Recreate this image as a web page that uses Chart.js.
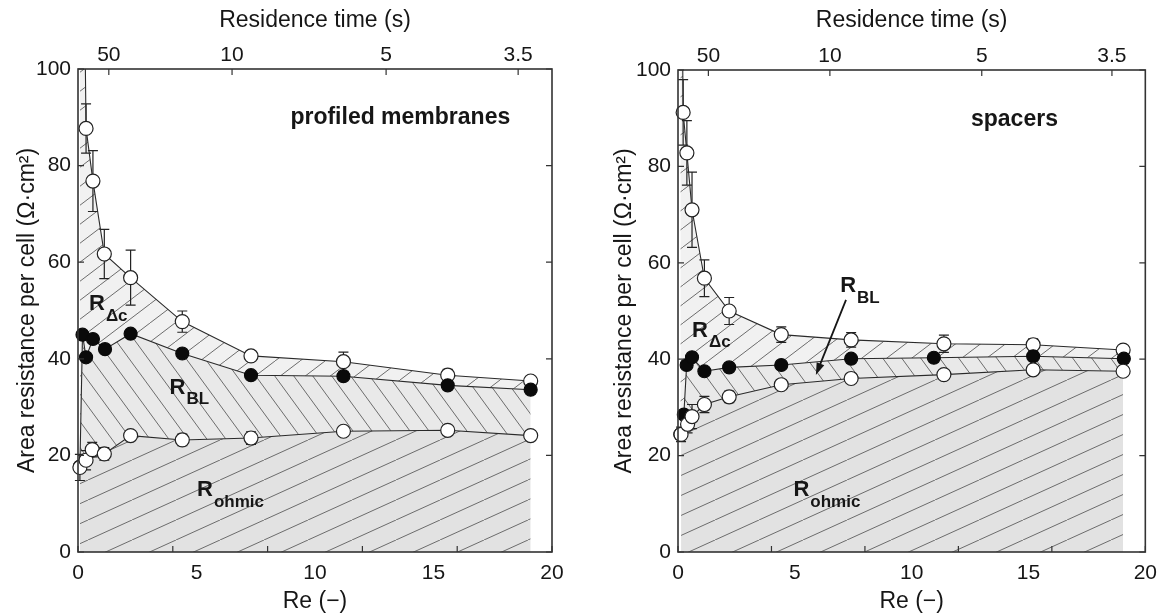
<!DOCTYPE html>
<html lang="en">
<head>
<meta charset="UTF-8">
<title>Area resistance per cell vs Re</title>
<script src="https://cdn.jsdelivr.net/npm/chart.js"></script>
<style>
  body { margin: 0; background: #fff; }
  .wrap { position: absolute; top: 0; width: 583px; height: 615px; }
  #boxL { left: 0; }
  #boxR { left: 583px; }
</style>
</head>
<body>
<div class="wrap" id="boxL"><canvas id="chartL"></canvas></div>
<div class="wrap" id="boxR"><canvas id="chartR"></canvas></div>
<script>
  // Re * residence time (s), used to place the top axis
  const reTimesTau = 65;
  const residenceTicks = [50, 10, 5, 3.5];
  const reTickLabels = [0, 5, 10, 15, 20];
  const reTickMarks = [0, 4, 8, 12, 16, 20];
  const resistanceTicks = [0, 20, 40, 60, 80, 100];

  // profiled membranes
  const pmReOhmic = [0.08, 0.34, 0.6, 1.11, 2.22, 4.4, 7.3, 11.2, 15.6, 19.1];
  const pmOhmic = [17.5, 19.0, 21.2, 20.3, 24.1, 23.2, 23.6, 25.0, 25.2, 24.1];
  const pmOhmicErr = [2.7, 2.0, 1.5, 1.3, 0.6, 1.2, 1.3, 0.5, 0.5, 1.0];
  const pmReBL = [0.08, 0.19, 0.34, 0.63, 1.14, 2.22, 4.4, 7.3, 11.2, 15.6, 19.1];
  const pmBL = [17.7, 45.0, 40.3, 44.1, 42.0, 45.2, 41.1, 36.6, 36.4, 34.5, 33.6];
  const pmReTotal = [0.08, 0.34, 0.63, 1.11, 2.22, 4.4, 7.3, 11.2, 15.6, 19.1];
  const pmTotal = [200, 87.7, 76.8, 61.7, 56.8, 47.7, 40.6, 39.4, 36.6, 35.4];
  const pmTotalErr = [0, 5.1, 6.3, 5.1, 5.7, 2.2, 1.0, 2.0, 1.2, 0.8];

  // spacers
  const spReOhmic = [0.13, 0.41, 0.6, 1.13, 2.19, 4.42, 7.41, 11.38, 15.2, 19.05];
  const spOhmic = [24.4, 26.5, 28.1, 30.6, 32.2, 34.7, 36.0, 36.8, 37.8, 37.5];
  const spOhmicErr = [1.5, 1.8, 2.5, 1.7, 1.2, 0.5, 0.5, 0.5, 0.5, 0.5];
  const spReBL = [0.1, 0.25, 0.37, 0.6, 1.13, 2.19, 4.42, 7.41, 10.95, 15.2, 19.08];
  const spBL = [24.4, 28.5, 38.8, 40.4, 37.5, 38.3, 38.8, 40.1, 40.3, 40.6, 40.1];
  const spReTotal = [0.1, 0.22, 0.38, 0.6, 1.13, 2.19, 4.42, 7.41, 11.38, 15.2, 19.05];
  const spTotal = [160, 91.2, 82.8, 71.0, 56.8, 50.0, 45.1, 44.0, 43.2, 43.0, 41.9];
  const spTotalErr = [0, 6.8, 6.7, 7.8, 3.8, 2.8, 1.6, 1.5, 1.8, 1.2, 0.5];

  const FONT = "'Liberation Sans', Arial, sans-serif";
  const INK = '#161616';

  function pts(xs, ys) {
    return xs.map((x, i) => ({ x: x, y: ys[i] }));
  }

  // hatched fill: one line per w x h tile, dir 1 = "/", -1 = "\"
  function hatch(ctx, bg, w, h, dir) {
    const c = document.createElement('canvas');
    c.width = w; c.height = h;
    const g = c.getContext('2d');
    g.fillStyle = bg;
    g.fillRect(0, 0, w, h);
    g.strokeStyle = '#6c6c6c';
    g.lineWidth = 1;
    g.beginPath();
    for (const dx of [-w, 0, w]) {
      if (dir > 0) { g.moveTo(dx, h); g.lineTo(dx + w, 0); }
      else { g.moveTo(dx, 0); g.lineTo(dx + w, h); }
    }
    g.stroke();
    return ctx.createPattern(c, 'repeat');
  }

  // box + inward tick marks
  const framePlugin = {
    id: 'frame',
    afterDatasetsDraw(chart) {
      const { ctx, chartArea: a, scales } = chart;
      const len = 6;
      ctx.save();
      ctx.strokeStyle = '#333';
      ctx.lineWidth = 1.2;
      ctx.beginPath();
      reTickMarks.forEach(v => {
        const x = scales.x.getPixelForValue(v);
        ctx.moveTo(x, a.bottom); ctx.lineTo(x, a.bottom - len);
      });
      residenceTicks.forEach(t => {
        const x = scales.xTop.getPixelForValue(reTimesTau / t);
        ctx.moveTo(x, a.top); ctx.lineTo(x, a.top + len);
      });
      resistanceTicks.forEach(v => {
        const y = scales.y.getPixelForValue(v);
        ctx.moveTo(a.left, y); ctx.lineTo(a.left + len, y);
        ctx.moveTo(a.right, y); ctx.lineTo(a.right - len, y);
      });
      ctx.stroke();
      ctx.lineWidth = 1.6;
      ctx.strokeRect(a.left, a.top, a.right - a.left, a.bottom - a.top);
      ctx.restore();
    }
  };

  // vertical error bars, drawn under the markers
  const errorPlugin = {
    id: 'errbars',
    beforeDatasetsDraw(chart) {
      const { ctx, chartArea: a, scales: { y } } = chart;
      ctx.save();
      ctx.beginPath();
      ctx.rect(a.left - 8, a.top, a.right - a.left + 16, a.bottom - a.top + 8);
      ctx.clip();
      ctx.strokeStyle = '#222';
      ctx.lineWidth = 1.2;
      chart.data.datasets.forEach((ds, i) => {
        if (!ds.errors) return;
        const meta = chart.getDatasetMeta(i);
        meta.data.forEach((p, j) => {
          const e = ds.errors[j];
          if (!e) return;
          const v = ds.data[j].y;
          const y1 = y.getPixelForValue(v + e);
          const y2 = y.getPixelForValue(v - e);
          ctx.beginPath();
          ctx.moveTo(p.x, y1); ctx.lineTo(p.x, y2);
          ctx.moveTo(p.x - 5, y1); ctx.lineTo(p.x + 5, y1);
          ctx.moveTo(p.x - 5, y2); ctx.lineTo(p.x + 5, y2);
          ctx.stroke();
        });
      });
      ctx.restore();
    }
  };

  // panel names, R labels and the arrow
  const notesPlugin = {
    id: 'notes',
    afterDatasetsDraw(chart, args, opts) {
      const { ctx, scales: { x, y } } = chart;
      ctx.save();
      ctx.fillStyle = INK;
      ctx.strokeStyle = INK;
      ctx.textBaseline = 'middle';
      (opts.titles || []).forEach(t => {
        ctx.font = 'bold 23px ' + FONT;
        ctx.textAlign = 'center';
        ctx.fillText(t.text, x.getPixelForValue(t.re), y.getPixelForValue(t.val));
      });
      (opts.symbols || []).forEach(s => {
        const px = x.getPixelForValue(s.re);
        const py = y.getPixelForValue(s.val);
        ctx.font = 'bold 22px ' + FONT;
        ctx.textAlign = 'center';
        ctx.fillText('R', px, py);
        const w = ctx.measureText('R').width;
        ctx.font = 'bold 17px ' + FONT;
        ctx.textAlign = 'left';
        ctx.fillText(s.sub, px + w / 2 + 1, py + 12);
      });
      (opts.arrows || []).forEach(ar => {
        const x1 = x.getPixelForValue(ar.from[0]), y1 = y.getPixelForValue(ar.from[1]);
        const x2 = x.getPixelForValue(ar.to[0]), y2 = y.getPixelForValue(ar.to[1]);
        const ang = Math.atan2(y2 - y1, x2 - x1);
        const hl = 13;
        ctx.lineWidth = 1.8;
        ctx.beginPath();
        ctx.moveTo(x1, y1);
        ctx.lineTo(x2 - Math.cos(ang) * hl * 0.8, y2 - Math.sin(ang) * hl * 0.8);
        ctx.stroke();
        ctx.beginPath();
        ctx.moveTo(x2, y2);
        ctx.lineTo(x2 - hl * Math.cos(ang - 0.32), y2 - hl * Math.sin(ang - 0.32));
        ctx.lineTo(x2 - hl * Math.cos(ang + 0.32), y2 - hl * Math.sin(ang + 0.32));
        ctx.closePath();
        ctx.fill();
      });
      ctx.restore();
    }
  };

  function makeChart(id, series, opts) {
    const ctx = document.getElementById(id).getContext('2d');
    const line = {
      showLine: true,
      borderColor: '#2a2a2a',
      borderWidth: 1.1,
      pointBorderColor: '#222',
      pointBorderWidth: 1.2,
      pointHoverRadius: 7,
      clip: { left: 8, right: 8, top: 0, bottom: 8 }
    };
    const tickFont = { family: FONT, size: 21 };
    const titleFont = { family: FONT, size: 23 };
    return new Chart(ctx, {
      type: 'scatter',
      data: {
        datasets: [
          Object.assign({}, line, {
            label: 'R ohmic',
            data: pts(series.reOhmic, series.ohmic),
            errors: series.ohmicErr,
            fill: 'origin',
            backgroundColor: hatch(ctx, '#e2e2e2', 44, 20, 1),
            pointBackgroundColor: '#fff',
            pointRadius: 7
          }),
          Object.assign({}, line, {
            label: 'R ohmic + R BL',
            data: pts(series.reBL, series.bl),
            fill: '-1',
            backgroundColor: hatch(ctx, '#e9e9e9', 19, 26, -1),
            pointBackgroundColor: '#0a0a0a',
            pointBorderColor: '#0a0a0a',
            pointRadius: 6.5
          }),
          Object.assign({}, line, {
            label: 'R total',
            data: pts(series.reTotal, series.total),
            errors: series.totalErr,
            fill: '-1',
            backgroundColor: hatch(ctx, '#f1f1f1', 25, 19, 1),
            pointBackgroundColor: '#fff',
            pointRadius: 7
          })
        ]
      },
      options: {
        responsive: true,
        maintainAspectRatio: false,
        animation: false,
        layout: { padding: opts.padding },
        plugins: {
          legend: { display: false },
          tooltip: { enabled: false },
          filler: { drawTime: 'beforeDatasetsDraw' },
          notes: opts.notes
        },
        scales: {
          x: {
            type: 'linear',
            position: 'bottom',
            min: 0, max: 20,
            afterBuildTicks: s => { s.ticks = reTickLabels.map(v => ({ value: v })); },
            afterFit: s => { s.height = 63; },
            grid: { display: false, drawTicks: false },
            border: { display: false },
            ticks: { font: tickFont, color: INK, padding: 9, maxRotation: 0, autoSkip: false },
            title: {
              display: true, text: 'Re (\u2212)', color: INK,
              font: titleFont, padding: { top: 0, bottom: 0 }
            }
          },
          xTop: {
            type: 'linear',
            position: 'top',
            display: true,
            min: 0, max: 20,
            afterBuildTicks: s => { s.ticks = residenceTicks.map(t => ({ value: reTimesTau / t })); },
            afterFit: s => { s.height = opts.topHeight; },
            grid: { display: false, drawTicks: false },
            border: { display: false },
            ticks: {
              font: tickFont, color: INK, padding: 1, maxRotation: 0, autoSkip: false,
              callback: (v, i) => String(residenceTicks[i])
            },
            title: {
              display: true, text: 'Residence time (s)', color: INK,
              font: titleFont, padding: { top: 7, bottom: 0 }
            }
          },
          y: {
            min: 0, max: 100,
            afterBuildTicks: s => { s.ticks = resistanceTicks.map(v => ({ value: v })); },
            afterFit: s => { s.width = opts.yWidth; },
            grid: { display: false, drawTicks: false },
            border: { display: false },
            ticks: { font: tickFont, color: INK, padding: 7 },
            title: {
              display: true, text: 'Area resistance per cell (\u03A9\u00B7cm\u00B2)', color: INK,
              font: titleFont, padding: { top: 14, bottom: 0 }
            }
          }
        }
      },
      plugins: [errorPlugin, framePlugin, notesPlugin]
    });
  }

  makeChart('chartL', {
    reOhmic: pmReOhmic, ohmic: pmOhmic, ohmicErr: pmOhmicErr,
    reBL: pmReBL, bl: pmBL,
    reTotal: pmReTotal, total: pmTotal, totalErr: pmTotalErr
  }, {
    padding: { left: 0, right: 31, top: 0, bottom: 0 },
    yWidth: 78,
    topHeight: 69,
    notes: {
      titles: [{ text: 'profiled membranes', re: 13.6, val: 89.9 }],
      symbols: [
        { sub: '\u0394c', re: 0.8, val: 51.3 },
        { sub: 'BL', re: 4.2, val: 34.0 },
        { sub: 'ohmic', re: 5.36, val: 12.8 }
      ]
    }
  });

  makeChart('chartR', {
    reOhmic: spReOhmic, ohmic: spOhmic, ohmicErr: spOhmicErr,
    reBL: spReBL, bl: spBL,
    reTotal: spReTotal, total: spTotal, totalErr: spTotalErr
  }, {
    padding: { left: 14, right: 18, top: 0, bottom: 0 },
    yWidth: 81,
    topHeight: 70,
    notes: {
      titles: [{ text: 'spacers', re: 14.4, val: 89.6 }],
      symbols: [
        { sub: 'BL', re: 7.28, val: 55.2 },
        { sub: '\u0394c', re: 0.94, val: 45.9 },
        { sub: 'ohmic', re: 5.28, val: 12.9 }
      ],
      arrows: [{ from: [7.19, 52.3], to: [5.9, 36.7] }]
    }
  });
</script>
</body>
</html>
